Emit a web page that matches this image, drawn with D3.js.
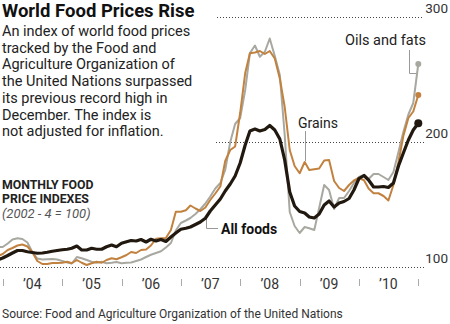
<!DOCTYPE html>
<html>
<head>
<meta charset="utf-8">
<script src="https://cdn.jsdelivr.net/npm/d3@7"></script>
<style>
  body { margin: 0; background: #fff; }
  svg { display: block; font-family: Roboto, "Liberation Sans", sans-serif; }
</style>
</head>
<body>
<div id="chart"></div>
<script>
// monthly index values, Nov 2003 through Dec 2010 (2002-4 = 100)
var firstMonth = new Date(2003, 10, 1);

var allFoods = [105.6, 107.2, 109.2, 111.2, 113.2, 113.2, 112.2, 111.6, 111.0, 111.2, 111.8, 112.6, 113.2,
  113.8, 114.2, 115.0, 116.8, 113.6, 113.6, 115.0, 114.2, 114.2, 116.2, 117.6, 116.2,
  119.0, 120.2, 121.2, 120.8, 122.0, 120.0, 122.2, 120.8, 122.0, 120.4, 124.0, 127.2,
  130.2, 131.0, 132.0, 134.0, 136.0, 139.0, 144.8, 149.6, 154.4, 160.8, 166.4, 172.8,
  183.2, 197.6, 208.8, 210.4, 208.8, 210.0, 213.2, 209.6, 202.4, 185.6, 160.0, 148.8,
  144.4, 143.2, 140.0, 139.2, 142.4, 149.6, 152.8, 148.0, 151.2, 152.4, 154.8, 161.6,
  170.8, 173.2, 169.6, 164.0, 164.0, 164.4, 163.6, 167.2, 180.8, 191.2, 201.6, 209.6, 215.0];

var grains = [108.8, 110.4, 113.6, 115.2, 117.2, 118.0, 116.4, 112.0, 104.8, 102.4, 102.4, 103.2, 103.2,
  103.4, 104.2, 103.0, 105.6, 103.4, 101.6, 103.0, 104.2, 103.4, 105.6, 107.0, 106.2,
  107.8, 109.6, 112.0, 111.2, 113.6, 114.0, 117.2, 122.6, 123.0, 123.2, 129.6, 144.2,
  144.2, 145.4, 149.2, 146.8, 144.8, 147.6, 153.6, 158.8, 164.4, 184.8, 193.6, 196.4,
  223.2, 255.2, 271.0, 271.6, 272.8, 270.4, 272.8, 266.8, 250.8, 228.0, 193.6, 180.8,
  175.0, 184.0, 177.6, 178.2, 178.8, 185.2, 185.6, 168.8, 163.2, 160.8, 165.6, 169.2,
  171.2, 169.4, 162.8, 159.0, 159.0, 156.8, 153.2, 165.6, 184.0, 204.8, 219.2, 224.4, 237.6];

var oilsFats = [116.0, 116.0, 118.8, 122.0, 123.0, 122.4, 119.6, 112.0, 106.8, 106.0, 106.2, 106.4, 106.0,
  104.8, 103.6, 102.8, 108.0, 107.0, 105.6, 104.2, 103.4, 104.2, 103.0, 103.4, 104.0,
  103.0, 103.4, 103.6, 104.8, 106.0, 108.0, 109.8, 111.2, 112.6, 115.6, 119.2, 129.2,
  135.2, 137.2, 139.2, 142.4, 146.2, 150.8, 156.4, 162.8, 167.2, 177.6, 200.0, 214.4,
  219.2, 241.6, 271.2, 277.2, 268.2, 272.2, 282.8, 268.8, 253.6, 205.6, 144.0, 132.8,
  127.2, 132.0, 131.0, 129.6, 147.2, 165.6, 161.6, 146.4, 155.2, 155.2, 160.8, 167.2,
  172.0, 173.6, 170.4, 174.4, 174.4, 172.0, 169.6, 176.0, 192.0, 208.0, 222.0, 231.2, 262.4];

var yTicks = [100, 200, 300];
var years = [2004, 2005, 2006, 2007, 2008, 2009, 2010];
var yearLabels = ["\u201904", "\u201905", "\u201906", "\u201907", "\u201908", "\u201909", "\u201910"];

var introLines = ["An index of world food prices", "tracked by the Food and",
  "Agriculture Organization of", "the United Nations surpassed",
  "its previous record high in", "December. The index is", "not adjusted for inflation."];

var width = 450, height = 324;
var colorAll = "#21190f", colorGrains = "#c2823f", colorOils = "#a8a8a0";

var svg = d3.select("#chart").append("svg")
    .attr("width", width)
    .attr("height", height)

// each month is plotted at its end
function monthDate(i) { return d3.timeMonth.offset(firstMonth, i + 1); }

var x = d3.scaleTime()
    .domain([new Date(2004, 0, 1), new Date(2011, 0, 1)])
    .range([2.7, 418.3])

var y = d3.scaleLinear()
    .domain([100, 300])
    .range([267, 17])

// dotted reference lines, broken where the text sits
var gridStart = {100: 0, 200: 216, 300: 217};
svg.append("g").selectAll("line")
    .data(yTicks)
    .enter().append("line")
    .attr("x1", d => gridStart[d])
    .attr("x2", 424)
    .attr("y1", d => Math.round(y(d)) + 0.5)
    .attr("y2", d => Math.round(y(d)) + 0.5)
    .attr("stroke", "#444")
    .attr("stroke-width", 1)
    .attr("stroke-dasharray", "1,2")

svg.append("g").selectAll("text")
    .data(yTicks)
    .enter().append("text")
    .attr("x", 448)
    .attr("y", d => y(d) - 4)
    .attr("text-anchor", "end")
    .attr("font-size", 13.5)
    .attr("fill", "#333")
    .text(d => d)

// x axis: year boundary ticks, labels centred in each year
var xAxis = svg.append("g").attr("class", "xaxis")
xAxis.selectAll("line")
    .data(years.concat([2011]))
    .enter().append("line")
    .attr("x1", d => Math.round(x(new Date(d, 0, 1))) + 0.5)
    .attr("x2", d => Math.round(x(new Date(d, 0, 1))) + 0.5)
    .attr("y1", 279)
    .attr("y2", 286)
    .attr("stroke", "#aaa")
    .attr("stroke-width", 1)

xAxis.selectAll("text")
    .data(years)
    .enter().append("text")
    .attr("x", d => x(new Date(d, 6, 1)))
    .attr("y", 288.5)
    .attr("text-anchor", "middle")
    .attr("font-size", 14)
    .attr("fill", "#333")
    .text((d, i) => yearLabels[i])

// label leaders
var leaders = svg.append("g")
    .attr("fill", "none")
    .attr("stroke", "#999")
    .attr("stroke-width", 1)
leaders.append("path").attr("d", "M206.5,219V228.5H218")
leaders.append("path").attr("d", "M305.5,131V161")
leaders.append("path").attr("d", "M409.5,50V73.5H417")

var line = d3.line()
    .x((d, i) => x(monthDate(i)))
    .y(d => y(d))

var series = [
  {values: oilsFats, color: colorOils, width: 2, r: 3},
  {values: grains, color: colorGrains, width: 2, r: 3},
  {values: allFoods, color: colorAll, width: 3.2, r: 4}
];

var lines = svg.append("g")
lines.selectAll("path")
    .data(series)
    .enter().append("path")
    .attr("d", d => line(d.values))
    .attr("fill", "none")
    .attr("stroke", d => d.color)
    .attr("stroke-width", d => d.width)
    .attr("stroke-linejoin", "round")

lines.selectAll("circle")
    .data(series)
    .enter().append("circle")
    .attr("cx", d => x(monthDate(d.values.length - 1)))
    .attr("cy", d => y(d.values[d.values.length - 1]))
    .attr("r", d => d.r)
    .attr("fill", d => d.color)

// titles and notes
svg.append("text")
    .attr("x", 2)
    .attr("y", 17)
    .attr("font-size", 18.5)
    .attr("font-weight", "bold")
    .attr("fill", "#111")
    .text("World Food Prices Rise")

svg.append("g").selectAll("text")
    .data(introLines)
    .enter().append("text")
    .attr("x", 2)
    .attr("y", (d, i) => 36 + i * 16.7)
    .attr("font-size", 14.5)
    .attr("fill", "#222")
    .text(d => d)

svg.append("text")
    .attr("x", 2)
    .attr("y", 188.5)
    .attr("font-size", 12.3)
    .attr("font-weight", "bold")
    .attr("fill", "#222")
    .text("MONTHLY FOOD")
svg.append("text")
    .attr("x", 2)
    .attr("y", 202.5)
    .attr("font-size", 12.3)
    .attr("font-weight", "bold")
    .attr("fill", "#222")
    .text("PRICE INDEXES")
svg.append("text")
    .attr("x", 2)
    .attr("y", 218)
    .attr("font-size", 13)
    .attr("font-style", "italic")
    .attr("fill", "#555")
    .text("(2002 - 4 = 100)")

svg.append("text")
    .attr("x", 221)
    .attr("y", 233.5)
    .attr("font-size", 14)
    .attr("font-weight", "bold")
    .attr("fill", "#111")
    .text("All foods")
svg.append("text")
    .attr("x", 298)
    .attr("y", 128)
    .attr("font-size", 14)
    .attr("fill", "#222")
    .text("Grains")
svg.append("text")
    .attr("x", 345)
    .attr("y", 45)
    .attr("font-size", 14.5)
    .attr("fill", "#222")
    .text("Oils and fats")

svg.append("text")
    .attr("x", 2)
    .attr("y", 318)
    .attr("font-size", 12)
    .attr("fill", "#333")
    .text("Source: Food and Agriculture Organization of the United Nations")
</script>
</body>
</html>
